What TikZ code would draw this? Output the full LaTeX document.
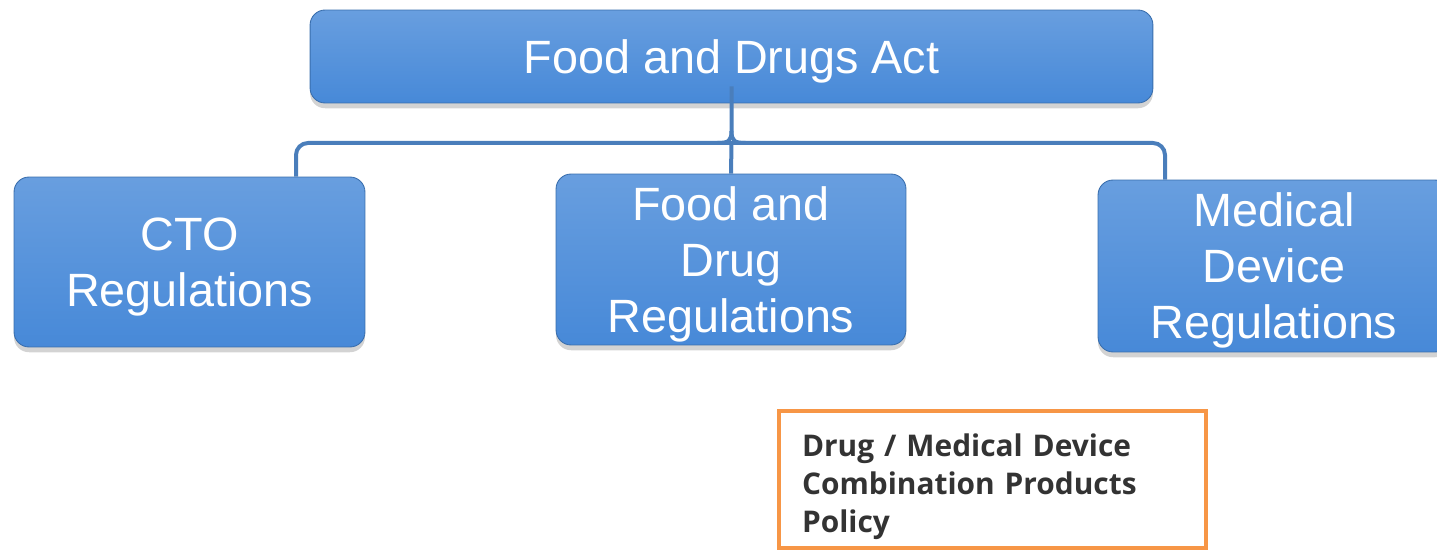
\documentclass[tikz,border=0pt]{standalone}
\usepackage{fontspec}
\setmainfont{Liberation Sans}
\newfontfamily\policyfont{Open Sans}
\usetikzlibrary{calc,shadows}
\definecolor{boxblue}{RGB}{71,137,216}
\definecolor{linkblue}{RGB}{74,126,187}
\definecolor{policyorange}{RGB}{247,150,70}
\definecolor{policytext}{RGB}{51,51,51}
\begin{document}
\begin{tikzpicture}[x=0.02cm,y=-0.02cm,
  box/.style = {draw=boxblue!80!black, line width=0.5pt, rounded corners=0.3cm,
    top color=boxblue!82!white, middle color=boxblue, bottom color=boxblue,
    text=white, align=center, inner sep=0pt, text depth=0pt,
    font=\fontsize{26.6}{31.9}\selectfont,
    drop shadow={opacity=0.35, shadow xshift=0pt, shadow yshift=-3pt}},
  link/.style = {draw=linkblue, line width=0.08cm},
  policy/.style = {draw=policyorange, line width=0.08cm, text=policytext,
    align=left, inner xsep=0.46cm, inner ysep=0pt, text width=7.62cm,
    minimum height=2.74cm, font=\policyfont\bfseries\fontsize{17}{21.6}\selectfont,
    execute at begin node={\rule{0pt}{0.74cm}}},]
\useasboundingbox (0,0) rectangle (1437,550);
% act and the three sets of regulations
\node (act) at (731.5,56.5)[box, minimum width=16.86cm, minimum height=1.86cm] {Food and Drugs Act};
\node (cto) at (189.5,262)[box, minimum width=7.02cm, minimum height=3.4cm] {CTO\\Regulations};
\node (fdr) at (731,259.5)[box, minimum width=7cm, minimum height=3.42cm] {Food and\\Drug\\Regulations};
\node (mdr) at (1274,266)[box, minimum width=7.04cm, minimum height=3.44cm] {Medical\\Device\\Regulations};
\node (pol) at (992.5,479.5)[policy] {Drug / Medical Device Combination Products Policy};
% bracket
\coordinate (l) at (296,143);
\coordinate (r) at (1165,143);
\coordinate (tip) at (731.5,143);
\draw[link, rounded corners=0.24cm] (l |- cto.north) -- (l) -- (r) -- (r |- mdr.north);
\draw[link] ($(act.south)+(0,-17)$) -- ($(tip)+(0,-12)$) .. controls ($(tip)+(0,-2)$) and ($(tip)+(-3,0)$) .. ($(tip)+(-14,0)$);
\draw[link] ($(tip)+(0,-12)$) .. controls ($(tip)+(0,-2)$) and ($(tip)+(3,0)$) .. ($(tip)+(14,0)$);
\draw[link] (tip) -- (fdr.north);
\end{tikzpicture}
\end{document}
